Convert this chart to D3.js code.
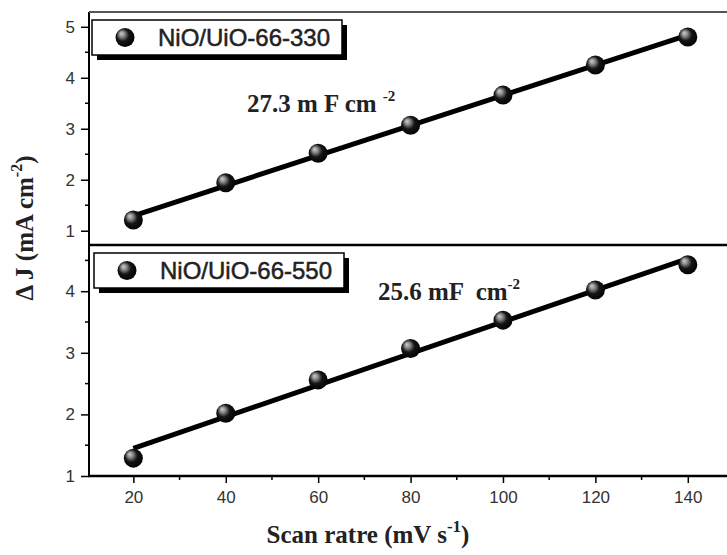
<!DOCTYPE html>
<meta charset="utf-8">
<style>
	body { margin: 0; background: white; }
	.tick text { font-family: "Liberation Sans", Arial, sans-serif; font-size: 17px; fill: #333; }
	.serif { font-family: "Liberation Serif", "Times New Roman", serif; font-weight: bold; fill: #222; white-space: pre; }
</style>
<script src="https://d3js.org/d3.v7.min.js"></script>
<body>
<script>

	// scan rate (mV/s)
	var scanRate = [20, 40, 60, 80, 100, 120, 140];
	// delta J (mA/cm2)
	var dj330 = [1.21, 1.94, 2.52, 3.07, 3.66, 4.25, 4.80];
	var dj550 = [1.29, 2.02, 2.56, 3.07, 3.53, 4.02, 4.43];

	var seriesNames = ["NiO/UiO-66-330", "NiO/UiO-66-550"];
	var capValues = ["27.3", "25.6"];
	var xTicks = [20, 40, 60, 80, 100, 120, 140];
	var yTicksTop = [1, 2, 3, 4, 5];
	var yTicksBottom = [1, 2, 3, 4];

	var W = 727, H = 555;
	var left = 89, right = 734;

	var svg = d3.select("body").append("svg")
		.attr("width", W)
		.attr("height", H);

	// sphere marker look
	var grad = svg.append("defs").append("radialGradient")
		.attr("id", "ball")
		.attr("cx", "45%").attr("cy", "45%")
		.attr("fx", "30%").attr("fy", "28%")
		.attr("r", "60%");
	grad.append("stop").attr("offset", "0%").attr("stop-color", "#cfcfcf");
	grad.append("stop").attr("offset", "25%").attr("stop-color", "#8a8a8a");
	grad.append("stop").attr("offset", "55%").attr("stop-color", "#151515");
	grad.append("stop").attr("offset", "100%").attr("stop-color", "#000");

	var x = d3.scaleLinear().domain([10.4, 150]).range([left, right]);

	function fit(xs, ys) {
		var mx = d3.mean(xs), my = d3.mean(ys);
		var sxy = d3.sum(xs, function(v, i) { return (v - mx) * (ys[i] - my); });
		var sxx = d3.sum(xs, function(v) { return (v - mx) * (v - mx); });
		var b = sxy / sxx;
		return function(v) { return my + b * (v - mx); };
	}

	function drawPanel(p) {
		var y = d3.scaleLinear().domain(p.domain).range([p.bottom, p.top]);
		var g = svg.append("g");

		// minor ticks
		var minorY = d3.range(Math.ceil(p.domain[0] * 2) / 2, p.domain[1], 0.5)
			.filter(function(v) { return v % 1 !== 0; });
		g.selectAll(".minorY").data(minorY).enter().append("line")
			.attr("x1", left - 4).attr("x2", left)
			.attr("y1", function(d) { return y(d); })
			.attr("y2", function(d) { return y(d); })
			.style("stroke", "black").style("stroke-width", 1.5);

		var yAxis = g.append("g")
			.attr("transform", "translate(" + left + ",0)")
			.call(d3.axisLeft(y).tickValues(p.ticks).tickSize(8).tickPadding(6).tickFormat(d3.format("d")));
		yAxis.select(".domain").remove();
		yAxis.selectAll(".tick line").style("stroke-width", 1.5);

		// frame lines
		g.append("line").attr("x1", left).attr("x2", left)
			.attr("y1", p.top).attr("y2", p.bottom)
			.style("stroke", "black").style("stroke-width", 2);
		g.append("line").attr("x1", left).attr("x2", W)
			.attr("y1", p.top).attr("y2", p.top)
			.style("stroke", p.topColor).style("stroke-width", p.topWidth);

		// fitted line
		var f = fit(scanRate, p.values);
		g.append("line")
			.attr("x1", x(scanRate[0])).attr("y1", y(f(scanRate[0])))
			.attr("x2", x(scanRate[scanRate.length - 1])).attr("y2", y(f(scanRate[scanRate.length - 1])))
			.style("stroke", "black").style("stroke-width", 5);

		g.selectAll(".pt").data(p.values).enter().append("circle")
			.attr("cx", function(d, i) { return x(scanRate[i]); })
			.attr("cy", function(d) { return y(d); })
			.attr("r", 9.5)
			.style("fill", "url(#ball)");

		// legend box with shadow
		var lg = g.append("g").attr("transform", "translate(" + p.legX + "," + p.legY + ")");
		lg.append("rect").attr("x", 5).attr("y", 5).attr("width", 250).attr("height", 35).style("fill", "black");
		lg.append("rect").attr("x", 0).attr("y", 0).attr("width", 250).attr("height", 35)
			.style("fill", "white").style("stroke", "black").style("stroke-width", 1.5);
		lg.append("circle").attr("cx", 33).attr("cy", 17.5).attr("r", 9.5).style("fill", "url(#ball)");
		lg.append("text").attr("x", 66).attr("y", 26)
			.style("font-family", "'Liberation Sans', Arial, sans-serif")
			.style("font-size", "24px")
			.style("fill", "#222")
			.style("stroke", "#222").style("stroke-width", 0.5)
			.text(p.name);

		// capacitance annotation
		var t = g.append("text").attr("class", "serif")
			.attr("x", p.capX).attr("y", p.capY)
			.style("font-size", "25px");
		t.append("tspan").text(p.cap + p.unit);
		t.append("tspan").attr("dy", -11).style("font-size", "15px").text("-2");

		return y;
	}

	var yTop = drawPanel({
		domain: [0.72, 5.29], top: 12, bottom: 245, ticks: yTicksTop,
		values: dj330, name: seriesNames[0], cap: capValues[0], unit: " m F cm ",
		legX: 92, legY: 20, capX: 247, capY: 112, topColor: "#555", topWidth: 2
	});

	var yBot = drawPanel({
		domain: [1, 4.75], top: 245, bottom: 476, ticks: yTicksBottom,
		values: dj550, name: seriesNames[1], cap: capValues[1], unit: " mF  cm",
		legX: 94, legY: 253, capX: 378, capY: 300, topColor: "black", topWidth: 2.5
	});

	// bottom x axis
	var xAxis = svg.append("g")
		.attr("transform", "translate(0,476)")
		.call(d3.axisBottom(x).tickValues(xTicks).tickSize(7).tickPadding(8));
	xAxis.select(".domain").remove();
	xAxis.selectAll(".tick line").style("stroke-width", 1.5);

	svg.selectAll(".minorX").data(d3.range(30, 150, 20)).enter().append("line")
		.attr("x1", function(d) { return x(d); }).attr("x2", function(d) { return x(d); })
		.attr("y1", 476).attr("y2", 480)
		.style("stroke", "black").style("stroke-width", 1.5);

	svg.append("line").attr("x1", left - 1).attr("x2", W)
		.attr("y1", 476).attr("y2", 476)
		.style("stroke", "black").style("stroke-width", 2.5);

	// axis titles
	var xl = svg.append("text").attr("class", "serif")
		.attr("x", 368).attr("y", 543)
		.attr("text-anchor", "middle")
		.style("font-size", "25px");
	xl.append("tspan").text("Scan ratre (mV s");
	xl.append("tspan").attr("dy", -11).style("font-size", "17px").text("-1");
	xl.append("tspan").attr("dy", 11).text(")");

	var yl = svg.append("text").attr("class", "serif")
		.attr("transform", "translate(33,228) rotate(-90)")
		.attr("text-anchor", "middle")
		.style("font-size", "25px");
	yl.append("tspan").text("\u0394 J (mA cm");
	yl.append("tspan").attr("dy", -11).style("font-size", "16px").text("-2");
	yl.append("tspan").attr("dy", 11).text(")");

</script>
</body>
